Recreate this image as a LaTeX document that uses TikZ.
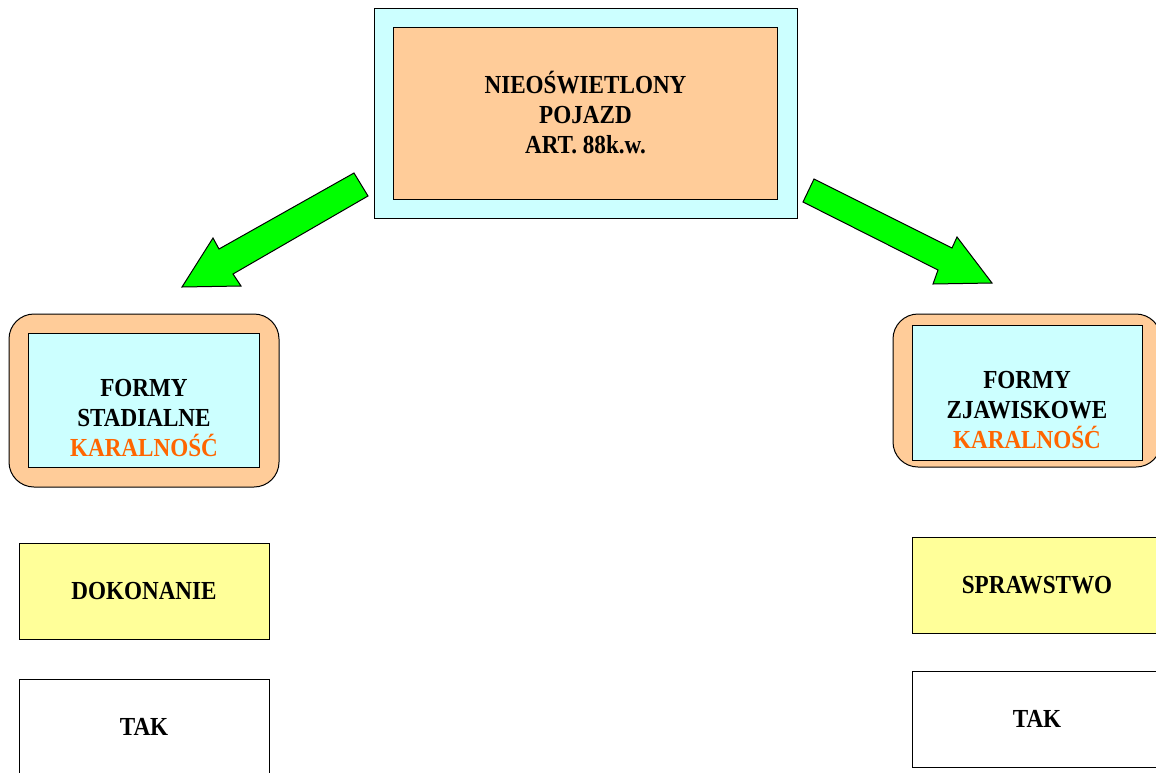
\documentclass[tikz,border=0pt]{standalone}
\usepackage{fontspec}
\setmainfont{Liberation Serif}[FakeStretch=0.89]
\usepackage{xcolor}
\definecolor{paleCyan}{HTML}{CCFFFF}
\definecolor{peach}{HTML}{FFCC99}
\definecolor{paleYellow}{HTML}{FFFF99}
\definecolor{karaOrange}{HTML}{FF6600}
\definecolor{arrowGreen}{HTML}{00FF00}

\begin{document}
\begin{tikzpicture}[x=1pt,y=-1pt,
  box/.style={draw=black,line width=1pt,inner sep=0pt,outer sep=0pt},
  txt/.style={font=\fontsize{26}{30}\selectfont\bfseries,align=center,inner sep=0pt},
  bigarrow/.style={draw=black,line width=1pt,fill=arrowGreen,line join=miter}]
\useasboundingbox (0,0) rectangle (1156,772);
\clip (0,0) rectangle (1156,772);
% Drawing main box
\node[box,fill=paleCyan,minimum width=423,minimum height=210] (mainOuter) at (585.5,113) {};
\node[box,fill=peach,minimum width=384,minimum height=172,txt] (main) at (mainOuter.center) {NIEOŚWIETLONY\\POJAZD\\ART. 88k.w.};
% Drawing arrows
\draw[bigarrow] (354,173) -- (368,196) -- (233,274) -- (241,286) -- (182,287) -- (213,238) -- (219,249) -- cycle;
\draw[bigarrow] (814,179) -- (952,248) -- (957,237) -- (992,283) -- (933,284) -- (938,270) -- (803,202) -- cycle;
% Left column
\node[box,fill=peach,rounded corners=25pt,minimum width=270,minimum height=173] (stadOuter) at (144,400.5) {};
\node[box,fill=paleCyan,minimum width=231,minimum height=134] (stad) at (143.5,400) {};
\node[txt] (stadText) at (144,418) {FORMY\\STADIALNE\\\textcolor{karaOrange}{KARALNOŚĆ}};
\node[box,fill=paleYellow,minimum width=250,minimum height=96,txt] (dokon) at (144,591) {DOKONANIE};
\node[box,fill=white,minimum width=250,minimum height=96,txt] (takLeft) at (144,727) {TAK};
% Right column
\node[box,fill=peach,rounded corners=25pt,minimum width=268,minimum height=153] (zjawOuter) at (1027,390.5) {};
\node[box,fill=paleCyan,minimum width=230,minimum height=135] (zjaw) at (1027,392.5) {};
\node[txt] (zjawText) at (1027,410) {FORMY\\ZJAWISKOWE\\\textcolor{karaOrange}{KARALNOŚĆ}};
\node[box,fill=paleYellow,minimum width=250,minimum height=96,txt] (spraw) at (1037,585) {SPRAWSTWO};
\node[box,fill=white,minimum width=250,minimum height=96,txt] (takRight) at (1037,719) {TAK};
\end{tikzpicture}
\end{document}
